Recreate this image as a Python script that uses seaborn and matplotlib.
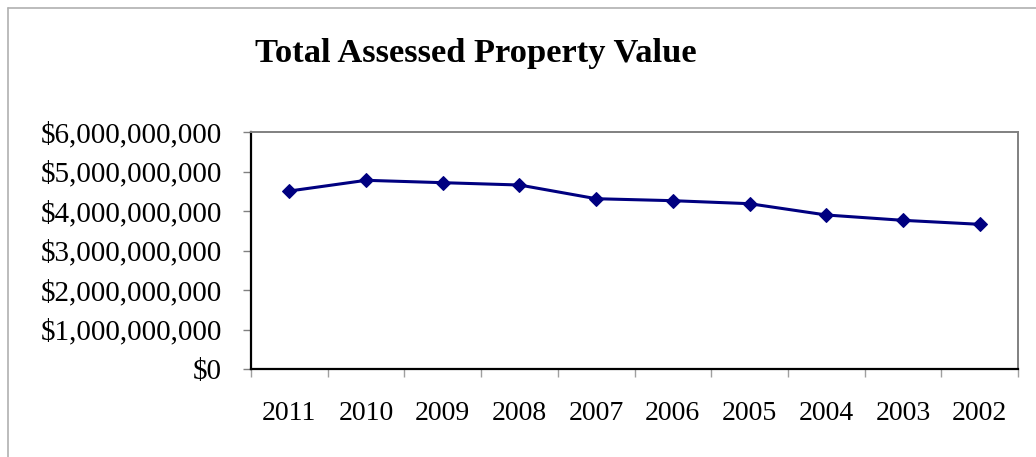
import matplotlib
matplotlib.use("Agg")
import matplotlib.pyplot as plt
import matplotlib.ticker as mticker
from matplotlib.lines import Line2D
import seaborn as sns
import pandas as pd
import numpy as np

years = ["2011", "2010", "2009", "2008", "2007", "2006", "2005", "2004", "2003", "2002"]
values = [4.506e9, 4.777e9, 4.717e9, 4.658e9, 4.311e9, 4.261e9, 4.185e9, 3.899e9, 3.764e9, 3.663e9]
yticks = [0, 1e9, 2e9, 3e9, 4e9, 5e9, 6e9]
title = "Total Assessed Property Value"

sns.set_style("white")
plt.rcParams['font.family'] = ['Liberation Serif', 'DejaVu Serif']
plt.rcParams['text.color'] = 'black'
plt.rcParams['xtick.color'] = 'black'
plt.rcParams['ytick.color'] = 'black'

df = pd.DataFrame({"year": years, "value": values})

fig = plt.figure(figsize=(10.36, 4.57), dpi=100)
ax = fig.add_axes([251/1036, 1 - 369/457, (1018-251)/1036, (369-132)/457])

sns.lineplot(data=df, x="year", y="value", sort=False, ax=ax,
             color="#000080", linewidth=2.2, marker="D", markersize=7,
             markeredgecolor="#000080", markerfacecolor="#000080")

ax.set_xlim(-0.5, len(years) - 0.5)
ax.set_ylim(yticks[0], yticks[-1])
ax.set_yticks(yticks)
ax.yaxis.set_major_formatter(mticker.FuncFormatter(lambda v, p: f"${v:,.0f}"))
ax.set_xticks(range(len(years)))
ax.set_xticklabels(years)
ax.set_xticks(np.arange(-0.5, len(years), 1.0), minor=True)

ax.set_xlabel("")
ax.set_ylabel("")

ax.tick_params(axis="y", which="major", direction="out", length=6, width=1,
               color="#808080", labelcolor="black", pad=15, labelsize=21, left=True)
ax.tick_params(axis="x", which="major", length=0, pad=23, labelsize=20,
               labelcolor="black")
ax.tick_params(axis="x", which="minor", direction="out", length=5.5, width=1,
               color="#a0a0a0", bottom=True)

for side in ["left", "bottom"]:
    ax.spines[side].set_color("black")
    ax.spines[side].set_linewidth(1.6)
for side in ["top", "right"]:
    ax.spines[side].set_color("#808080")
    ax.spines[side].set_linewidth(1.4)

fig.text(476/1036, 1 - 62/457, title, ha="center", va="baseline",
         fontsize=24.8, fontweight="bold", color="black")

# outer chart border
fig.add_artist(Line2D([8/1036, 1.0], [1 - 8/457, 1 - 8/457], transform=fig.transFigure,
                      color="#b0b0b0", linewidth=1.2))
fig.add_artist(Line2D([8/1036, 8/1036], [0, 1 - 8/457], transform=fig.transFigure,
                      color="#b0b0b0", linewidth=1.2))

fig.savefig("out.png", dpi=100, facecolor="white")
